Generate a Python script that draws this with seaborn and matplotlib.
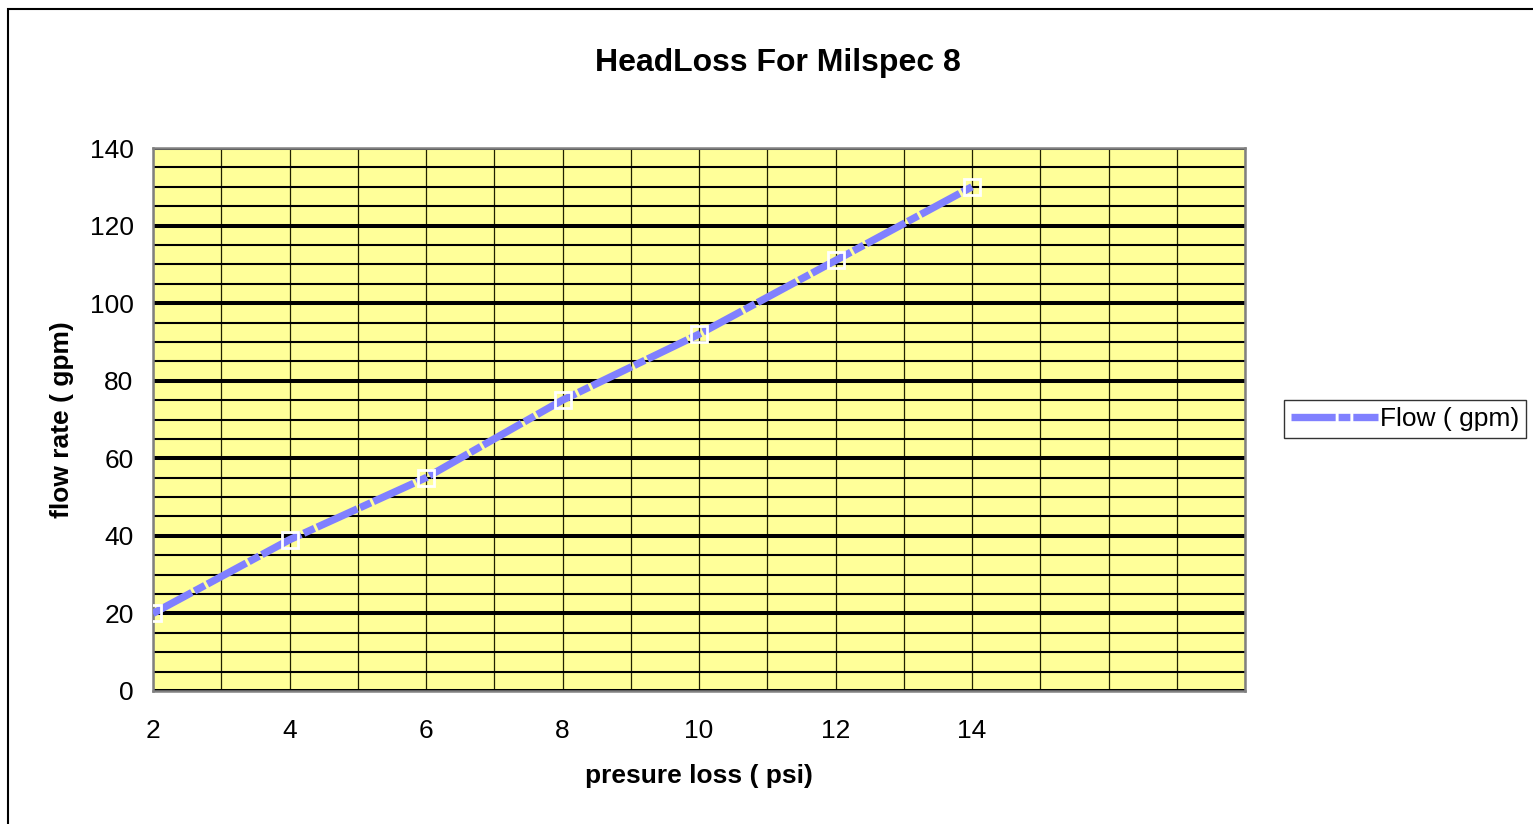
import matplotlib
matplotlib.use("Agg")
import matplotlib.pyplot as plt
import matplotlib.patches as mpatches
from matplotlib.ticker import MultipleLocator, FixedLocator
import seaborn as sns
import pandas as pd

# ---- data ----
pressure_psi = [2, 4, 6, 8, 10, 12, 14]
flow_gpm = [20, 39, 55, 75, 92, 111, 130]
x_tick_values = [2, 4, 6, 8, 10, 12, 14, 16, 18]
x_tick_labels = ["2", "4", "6", "8", "10", "12", "14", "", ""]
y_tick_values = [0, 20, 40, 60, 80, 100, 120, 140]
series_name = "Flow ( gpm)"
title = "HeadLoss For Milspec 8"
x_label = "presure loss ( psi)"
y_label = "flow rate ( gpm)"

sns.set_style("white")
plt.rcParams["font.family"] = ["Liberation Sans", "DejaVu Sans"]
plt.rcParams["text.color"] = "black"
plt.rcParams["axes.labelcolor"] = "black"
plt.rcParams["xtick.color"] = "black"
plt.rcParams["ytick.color"] = "black"

W, H = 1533, 824
fig = plt.figure(figsize=(W / 100, H / 100), dpi=100)
left, right, top, bottom = 153, 1245, 148, 691
ax = fig.add_axes([left / W, 1 - bottom / H, (right - left) / W, (bottom - top) / H])
ax.set_facecolor("#FFFF99")

DASH = (6, 0.4, 1.6, 0.4)
df = pd.DataFrame({"x": pressure_psi, "y": flow_gpm})
sns.lineplot(data=df, x="x", y="y", ax=ax, color="#8080FF", linewidth=5.3,
             marker="s", markersize=11, markerfacecolor="none",
             markeredgecolor="white", markeredgewidth=2.0,
             label=series_name, zorder=5)
line = ax.get_lines()[0]
line.set_dashes(DASH)
line.set_dash_capstyle("butt")

ax.set_xlim(2, 18)
ax.set_ylim(0, 140)
ax.xaxis.set_major_locator(FixedLocator(x_tick_values))
ax.set_xticklabels(x_tick_labels)
ax.xaxis.set_minor_locator(MultipleLocator(1))
ax.yaxis.set_major_locator(FixedLocator(y_tick_values))
ax.yaxis.set_minor_locator(MultipleLocator(5))

ax.grid(True, which="major", axis="y", color="black", linewidth=2.9, zorder=1)
ax.grid(True, which="minor", axis="y", color="black", linewidth=1.5, zorder=1)
ax.grid(True, which="both", axis="x", color="#222200", linewidth=0.9, zorder=1)
ax.set_axisbelow(True)

ax.tick_params(axis="both", which="major", direction="out", length=6, width=1.2,
               color="black", labelsize=19, labelcolor="black", pad=8)
ax.tick_params(axis="both", which="minor", length=0)
ax.tick_params(axis="x", pad=14)

for s in ax.spines.values():
    s.set_visible(True)
    s.set_color("#808080")
    s.set_linewidth(1.8)

ax.set_xlabel(x_label, fontsize=19, fontweight="bold", color="black")
ax.set_ylabel(y_label, fontsize=19, fontweight="bold", color="black")
ax.xaxis.set_label_coords(0.5, -(764 - 691) / (bottom - top))
ax.yaxis.set_label_coords(-(153 - 74) / (right - left), 0.5)

fig.text(778 / W, 1 - 63 / H, title, fontsize=23, fontweight="bold",
         ha="center", va="center", color="black")

leg = ax.legend(loc="center left", bbox_to_anchor=(1284 / W, 1 - 419 / H),
                bbox_transform=fig.transFigure, frameon=True, fancybox=False,
                fontsize=19, handlelength=3.3, handletextpad=0.1,
                borderpad=0.25, borderaxespad=0)
leg.get_frame().set_edgecolor("black")
leg.get_frame().set_linewidth(1.0)
for t in leg.get_texts():
    t.set_color("black")
for h in leg.get_lines():
    h.set_marker("")
    h.set_dashes(DASH)

border = mpatches.Rectangle((8 / W, -0.1), 2, 1 - 9 / H + 0.1, fill=False,
                            edgecolor="black", linewidth=1.5,
                            transform=fig.transFigure, clip_on=False)
fig.patches.append(border)

fig.savefig("out.png", dpi=100)
